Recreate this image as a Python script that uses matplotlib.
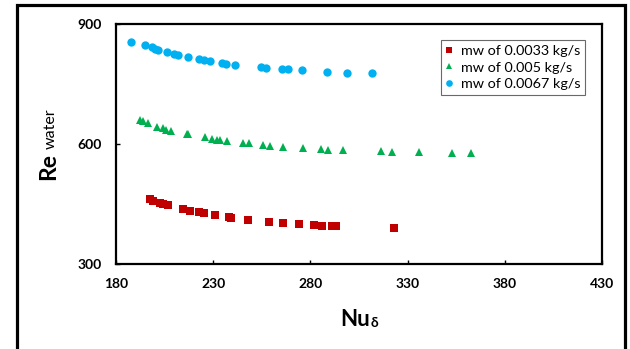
import matplotlib
matplotlib.use("Agg")
import matplotlib.pyplot as plt
from matplotlib.patches import Rectangle

plt.rcParams['font.family'] = ['Lato', 'DejaVu Sans']

# data
nu_0033 = [197.5, 198.9, 202.6, 204.3, 206.6, 214.3, 218.1, 222.7, 225.3, 230.8, 238.3,
           239.0, 248.1, 258.6, 265.8, 274.0, 281.9, 285.8, 291.0, 293.2, 323.1]
re_0033 = [462, 458, 452, 449, 447, 437, 433, 429, 427, 422, 418,
           415, 411, 405, 403, 400, 397, 396, 396, 396, 390]

nu_005 = [192.3, 194.0, 196.6, 200.9, 204.3, 205.6, 208.3, 216.4, 217.2, 225.8, 229.2,
          231.8, 233.5, 236.9, 245.5, 248.6, 255.8, 259.2, 266.1, 276.3, 285.5, 289.2,
          296.9, 316.2, 321.8, 336.0, 353.0, 362.6]
re_005 = [660, 657.5, 651.7, 643.3, 639.2, 635, 632.5, 624.2, 624.2, 616.7, 612.5,
          610.8, 609.2, 606.7, 603.3, 601.7, 598.3, 595.8, 593.3, 589.2, 587.5, 585.8,
          584.2, 582.5, 580.8, 579.2, 578.3, 577.5]

nu_0067 = [187.7, 194.9, 198.4, 200.1, 201.8, 206.4, 209.8, 212.1, 216.9, 222.7, 225.4,
           228.4, 234.7, 236.5, 241.1, 254.6, 257.0, 265.2, 268.6, 275.5, 288.5, 298.8, 311.8]
re_0067 = [855, 847.5, 842.5, 838.3, 835, 830, 825, 822.5, 816.7, 811.7, 810,
           807.5, 803.3, 800.8, 798.3, 791.7, 789.2, 786.7, 786.7, 784.2, 780, 778.3, 776.7]

labels = ["mw of 0.0033 kg/s", "mw of 0.005 kg/s", "mw of 0.0067 kg/s"]
x_ticks = [180, 230, 280, 330, 380, 430]
y_ticks = [300, 600, 900]

W, H = 630, 349
fig = plt.figure(figsize=(W / 100, H / 100), dpi=100)
ax = fig.add_axes([116 / W, 1 - 264 / H, (602 - 116) / W, (264 - 24) / H])

ax.plot(nu_0033, re_0033, 's', color='#C00000', markersize=5.5, mew=0, label=labels[0])
ax.plot(nu_005, re_005, '^', color='#00B050', markersize=6, mew=0, label=labels[1])
ax.plot(nu_0067, re_0067, 'o', color='#00B0F0', markersize=6, mew=0, label=labels[2])

ax.set_xlim(180, 430)
ax.set_ylim(300, 900)
ax.set_xticks(x_ticks)
ax.set_yticks(y_ticks)
for s in ax.spines.values():
    s.set_linewidth(1.6)
ax.tick_params(direction='in', length=3, width=1, labelsize=10, pad=10)
for t in ax.get_xticklabels() + ax.get_yticklabels():
    t.set_fontweight('bold')

leg = ax.legend(loc='upper right', bbox_to_anchor=(592 / W, 1 - 33 / H),
                bbox_transform=fig.transFigure, fontsize=10.4, frameon=True,
                fancybox=False, edgecolor='#444444', handlelength=0.6,
                handletextpad=0.5, borderpad=0.3, labelspacing=0.33,
                markerscale=0.8)
leg.get_frame().set_linewidth(0.8)

# axis titles
fig.text(355 / W, 1 - 319 / H, "Nu", fontsize=16, fontweight='bold', ha='center', va='center')
fig.text(374.5 / W, 1 - 323 / H, "δ", fontsize=10, fontweight='bold', ha='center', va='center')
fig.text(49 / W, 1 - 167 / H, "Re", fontsize=16.5, fontweight='bold', rotation=90,
         ha='center', va='center')
fig.text(51 / W, 1 - 129 / H, "water", fontsize=11.5, rotation=90, ha='center', va='center')

# outer frame
fig.patches.append(Rectangle((16.5 / W, -0.1), (624.5 - 16.5) / W, 1.1 - 5 / H,
                             transform=fig.transFigure, fill=False, edgecolor='black',
                             linewidth=2.3, clip_on=False))

fig.savefig("out.png", dpi=100)
